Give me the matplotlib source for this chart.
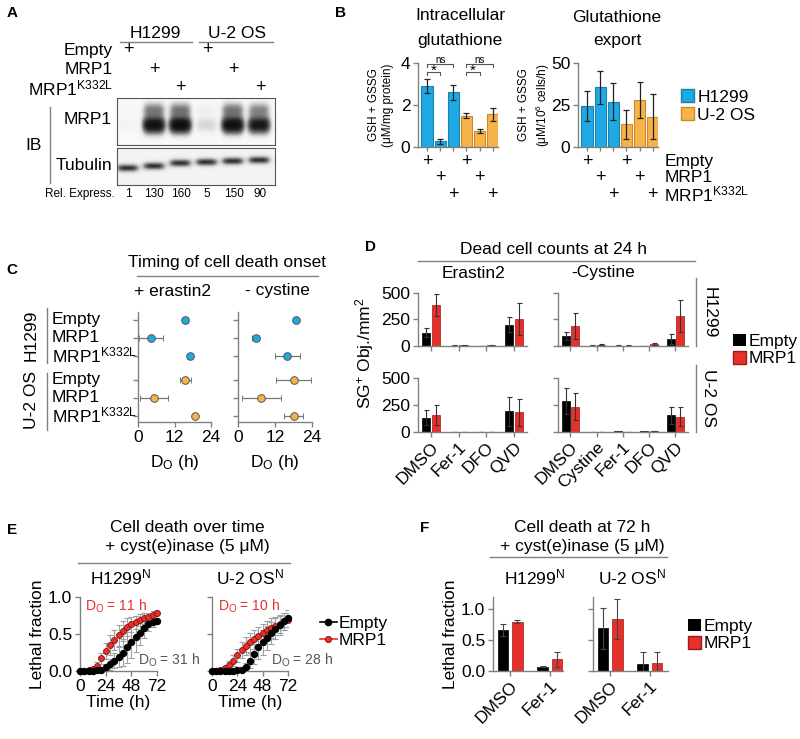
import numpy as np
import matplotlib
matplotlib.use('Agg')
from matplotlib import pyplot as plt
from matplotlib.lines import Line2D
from matplotlib.patches import Patch
from matplotlib.transforms import blended_transform_factory as blend

plt.rcParams['font.family'] = ['Liberation Sans', 'DejaVu Sans']
plt.rcParams['mathtext.fontset'] = 'custom'
plt.rcParams['mathtext.rm'] = 'Liberation Sans'
plt.rcParams['mathtext.it'] = 'Liberation Sans:italic'

# ---------------- data ----------------
lanes = ['H1299 Empty', 'H1299 MRP1', 'H1299 K332L', 'U2OS Empty', 'U2OS MRP1', 'U2OS K332L']
rel_express = [1, 130, 160, 5, 150, 90]

intra_mean = [2.9, 0.27, 2.6, 1.5, 0.78, 1.55]
intra_err = [0.35, 0.12, 0.35, 0.1, 0.1, 0.3]
export_mean = [24.5, 35.5, 27, 13.5, 28, 18]
export_err = [9, 10, 11, 8.5, 10.5, 13.5]

c_rows = ['Empty', 'MRP1', 'MRP1$^{\\mathregular{K332L}}$'] * 2
erastin_do = [15.6, 4.2, 17.1, 15.6, 5.2, 18.7]
erastin_do_err = [0.7, 4.0, 1.0, 1.8, 4.6, 0.6]
cystine_do = [18.7, 5.7, 16.0, 18.0, 7.6, 18.0]
cystine_do_err = [0.7, 1.1, 4.0, 5.8, 6.2, 3.0]

d_er_groups = ['DMSO', 'Fer-1', 'DFO', 'QVD']
d_cy_groups = ['DMSO', 'Cystine', 'Fer-1', 'DFO', 'QVD']
h_er_empty = [127, 3, 2, 199]
h_er_empty_err = [41, 2, 1, 70]
h_er_mrp1 = [389, 6, 5, 253]
h_er_mrp1_err = [105, 3, 3, 152]
h_cy_empty = [95, 3, 3, 2, 66]
h_cy_empty_err = [41, 2, 2, 1, 48]
h_cy_mrp1 = [190, 10, 3, 18, 285]
h_cy_mrp1_err = [120, 5, 2, 8, 152]
u_er_empty = [134, 2, 2, 194]
u_er_empty_err = [69, 1, 1, 134]
u_er_mrp1 = [156, 2, 2, 181]
u_er_mrp1_err = [94, 1, 1, 125]
u_cy_empty = [288, 1, 5, 6, 156]
u_cy_empty_err = [118, 1, 2, 2, 78]
u_cy_mrp1 = [234, 1, 3, 5, 141]
u_cy_mrp1_err = [125, 1, 1, 2, 88]

hours = [0, 4, 8, 12, 16, 20, 24, 28, 32, 36, 40, 44, 48, 52, 56, 60, 64, 68, 72]
h_empty = [0, 0, 0, 0, 0.01, 0.02, 0.05, 0.09, 0.14, 0.19, 0.25, 0.32, 0.39, 0.46, 0.52, 0.58, 0.63, 0.66, 0.68]
h_empty_err = [0, 0, 0, 0, 0.01, 0.02, 0.04, 0.07, 0.1, 0.14, 0.18, 0.21, 0.22, 0.2, 0.17, 0.13, 0.09, 0.06, 0.04]
h_mrp1 = [0, 0, 0.01, 0.03, 0.07, 0.17, 0.27, 0.35, 0.42, 0.48, 0.54, 0.59, 0.63, 0.66, 0.69, 0.71, 0.73, 0.76, 0.79]
h_mrp1_err = [0, 0, 0.01, 0.02, 0.05, 0.08, 0.11, 0.13, 0.14, 0.14, 0.13, 0.12, 0.1, 0.09, 0.08, 0.07, 0.06, 0.05, 0.04]
u_empty = [0, 0, 0, 0, 0, 0, 0.01, 0.02, 0.05, 0.14, 0.23, 0.32, 0.39, 0.45, 0.51, 0.57, 0.62, 0.67, 0.71]
u_empty_err = [0, 0, 0, 0, 0, 0, 0.01, 0.03, 0.06, 0.1, 0.14, 0.16, 0.17, 0.16, 0.15, 0.14, 0.13, 0.12, 0.12]
u_mrp1 = [0, 0, 0.01, 0.04, 0.08, 0.14, 0.21, 0.28, 0.34, 0.39, 0.43, 0.47, 0.51, 0.55, 0.58, 0.61, 0.64, 0.67, 0.69]
u_mrp1_err = [0, 0, 0.01, 0.03, 0.05, 0.07, 0.09, 0.11, 0.12, 0.13, 0.13, 0.13, 0.13, 0.13, 0.13, 0.12, 0.12, 0.11, 0.1]

f_groups = ['DMSO', 'Fer-1']
f_h_empty = [0.67, 0.07]
f_h_empty_err = [0.1, 0.01]
f_h_mrp1 = [0.80, 0.19]
f_h_mrp1_err = [0.02, 0.12]
f_u_empty = [0.69, 0.12]
f_u_empty_err = [0.33, 0.19]
f_u_mrp1 = [0.84, 0.13]
f_u_mrp1_err = [0.32, 0.18]

# ---------------- style ----------------
BLUE = '#1FA9E4'
ORANGE = '#F7B24A'
RED = '#E8302A'
AX = '#808080'
FS = 12.5
W, H = 800, 739

fig = plt.figure(figsize=(8, 7.39), dpi=100)


def px_axes(x0, y0, x1, y1):
    return fig.add_axes([x0 / W, 1 - y1 / H, (x1 - x0) / W, (y1 - y0) / H])


def ftext(x, y, s, **kw):
    kw.setdefault('ha', 'center')
    kw.setdefault('va', 'center')
    kw.setdefault('fontsize', FS)
    fig.text(x / W, 1 - y / H, s, **kw)


def fline(xs, ys, color=AX, lw=1):
    fig.add_artist(Line2D([x / W for x in xs], [1 - y / H for y in ys],
                          transform=fig.transFigure, color=color, lw=lw))


def style(ax):
    for s in ['top', 'right']:
        ax.spines[s].set_visible(False)
    for s in ['left', 'bottom']:
        ax.spines[s].set_color(AX)
        ax.spines[s].set_linewidth(1)
    ax.tick_params(color=AX, length=3.5, width=1, labelsize=FS, pad=2)
    ax.patch.set_alpha(0)


# panel letters
for letter, x, y in [('A', 12, 13), ('B', 340, 13), ('C', 12, 270), ('D', 370, 247),
                     ('E', 12, 530), ('F', 425, 528)]:
    ftext(x, y, letter, fontsize=11, fontweight='bold')

# ---------------- A: western blot ----------------
lane_px = [128 + 26.4 * i for i in range(6)]
ftext(155, 33, 'H1299')
ftext(237, 33, 'U-2 OS')
fline([120, 192], [42, 42])
fline([199, 273], [42, 42])
a_rows = ['Empty', 'MRP1', 'MRP1$^{\\mathregular{K332L}}$']
a_row_y = [50, 70, 88]
for r in range(3):
    ftext(113, a_row_y[r], a_rows[r], ha='right')
    for c in (r, r + 3):
        ftext(lane_px[c], a_row_y[r], '+', fontsize=13)

sig = 1 - np.exp(-np.array(rel_express) / 60.0)
xg = np.linspace(-0.4, 5.6, 400)
axm = px_axes(117, 98, 275, 145)
yg = np.linspace(98, 145, 120)
X, Y = np.meshgrid(xg, yg)
img = np.zeros_like(X)
for i, s in enumerate(sig):
    shape_x = np.exp(-((X - i) / 0.4) ** 4)
    shape_y = np.exp(-((Y - 125) / 7.5) ** 2) + 0.3 * np.exp(-((Y - 110) / 7) ** 2)
    img += 3.2 * s * shape_x * shape_y
img = 0.05 + 0.95 * (1 - np.exp(-img))
axm.imshow(img, extent=[-0.4, 5.6, 145, 98], cmap='Greys', vmin=0, vmax=1, aspect='auto')
axm.set_xticks([])
axm.set_yticks([])
for s in axm.spines.values():
    s.set_color('#555555')

axt = px_axes(117, 148, 275, 185)
tub_y = [168, 166, 163, 162, 161, 160]
yg2 = np.linspace(148, 185, 100)
X2, Y2 = np.meshgrid(xg, yg2)
img2 = np.full_like(X2, 0.1)
for i, yc in enumerate(tub_y):
    img2 += 0.75 * np.exp(-((X2 - i) / 0.42) ** 4) * np.exp(-((Y2 - yc) / 3.8) ** 2)
axt.imshow(img2, extent=[-0.4, 5.6, 185, 148], cmap='Greys', vmin=0, vmax=1, aspect='auto')
axt.set_xticks([])
axt.set_yticks([])
for s in axt.spines.values():
    s.set_color('#555555')

ftext(112, 120, 'MRP1', ha='right')
ftext(112, 165, 'Tubulin', ha='right')
ftext(34, 145, 'IB')
fline([50, 50], [107, 183])
ftext(115, 194, 'Rel. Express.', ha='right', fontsize=8.5)
for i, v in enumerate(rel_express):
    ftext(lane_px[i], 194, str(v), fontsize=8.5)

# ---------------- B: glutathione ----------------
bcol = [BLUE] * 3 + [ORANGE] * 3
bedge = ['#1782b0'] * 3 + ['#c98a2a'] * 3
xb = np.arange(6)
axB1 = px_axes(418, 63, 498, 147)
axB2 = px_axes(578, 63, 658, 147)
for ax, m, e, top in [(axB1, intra_mean, intra_err, 4), (axB2, export_mean, export_err, 50)]:
    style(ax)
    ax.bar(xb, m, width=0.85, color=bcol, edgecolor=bedge, lw=0.8)
    ax.errorbar(xb, m, yerr=e, fmt='none', ecolor='#222222', elinewidth=0.9, capsize=2.5, capthick=0.9)
    ax.set_xlim(-0.68, 5.4)
    ax.set_ylim(0, top)
    ax.set_yticks([0, top / 2, top])
    ax.set_xticks(xb)
    ax.set_xticklabels([])
    ax.tick_params(axis='x', length=3)
    tr = blend(ax.transData, ax.transAxes)
    for i in range(6):
        ax.text(i, [-0.17, -0.36, -0.56][i % 3], '+', transform=tr, ha='center', va='center', fontsize=13)
axB1.set_yticklabels(['0', '2', '4'])
axB2.set_yticklabels(['0', '25', '50'])

trB = blend(axB2.transAxes, axB2.transAxes)
for r, yy in enumerate([-0.17, -0.36, -0.56]):
    axB2.text(1.08, yy, a_rows[r], transform=trB, ha='left', va='center', fontsize=FS)


def bracket(ax, x0, x1, y, h, txt, fs, dy):
    ax.plot([x0, x0, x1, x1], [y - h, y, y, y - h], color='#555555', lw=0.8, clip_on=False)
    ax.text((x0 + x1) / 2, y + dy, txt, ha='center', va='center', fontsize=fs, clip_on=False)


bracket(axB1, 0, 1, 3.59, 0.14, '*', 11, 0.02)
bracket(axB1, 0, 2, 3.94, 0.14, 'ns', 7, 0.22)
bracket(axB1, 3, 4, 3.59, 0.14, '*', 11, 0.02)
bracket(axB1, 3, 5, 3.94, 0.14, 'ns', 7, 0.22)

ftext(460, 16, 'Intracellular')
ftext(460, 40, 'glutathione')
ftext(617, 18, 'Glutathione')
ftext(617, 41, 'export')
ftext(381, 105, 'GSH + GSSG\n(μM/mg protein)', rotation=90, fontsize=8.5, linespacing=1.3)
ftext(535, 105, 'GSH + GSSG\n(μM/10$^{\\mathregular{6}}$ cells/h)', rotation=90, fontsize=8.5, linespacing=1.3)
fig.legend(handles=[Patch(facecolor=BLUE, edgecolor='#1782b0'), Patch(facecolor=ORANGE, edgecolor='#c98a2a')],
           labels=['H1299', 'U-2 OS'], loc='center left', bbox_to_anchor=(672 / W, 1 - 106 / H),
           frameon=False, fontsize=FS, handlelength=0.75, handleheight=0.75, handletextpad=0.2,
           labelspacing=0.15, borderpad=0)

# ---------------- C: timing of death onset ----------------
c_pos = [0, 1, 2, 3.33, 4.33, 5.33]
ccol = [BLUE] * 3 + [ORANGE] * 3
ftext(227, 263, 'Timing of cell death onset')
fline([137, 318], [276, 276])
ftext(173, 291, '+ erastin2')
ftext(277, 291, '- cystine')
axC1 = px_axes(138, 312, 211, 422)
axC2 = px_axes(238, 312, 312, 422)
for ax, m, e in [(axC1, erastin_do, erastin_do_err), (axC2, cystine_do, cystine_do_err)]:
    style(ax)
    for i in range(6):
        ax.errorbar(m[i], c_pos[i], xerr=e[i], fmt='o', color=ccol[i], markersize=5.5,
                    markeredgecolor='#555555', markeredgewidth=0.7, ecolor='#777777',
                    elinewidth=0.9, capsize=2, capthick=0.9, clip_on=False)
    ax.set_xlim(0, 24)
    ax.set_ylim(5.67, -0.44)
    ax.set_xticks([0, 12, 24])
    ax.set_yticks(c_pos)
    ax.set_yticklabels([])
    ax.set_xlabel('D$_{\\mathregular{O}}$ (h)', fontsize=FS, labelpad=6)
trC = blend(axC1.transAxes, axC1.transData)
for i in range(6):
    axC1.text(-1.18, c_pos[i], c_rows[i], transform=trC, ha='left', va='center', fontsize=FS)
ftext(31, 335, 'H1299', rotation=90)
fline([47, 47], [308, 363])
ftext(31, 400, 'U-2 OS', rotation=90)
fline([47, 47], [373, 430])

# ---------------- D: dead cell counts ----------------
ftext(553, 250, 'Dead cell counts at 24 h')
fline([418, 695], [261, 261])
ftext(473, 273, 'Erastin2')
ftext(603, 273, '-Cystine')
d_panels = [
    ((418, 293, 527, 346), d_er_groups, h_er_empty, h_er_empty_err, h_er_mrp1, h_er_mrp1_err, False),
    ((558, 293, 688, 346), d_cy_groups, h_cy_empty, h_cy_empty_err, h_cy_mrp1, h_cy_mrp1_err, False),
    ((418, 378, 527, 432), d_er_groups, u_er_empty, u_er_empty_err, u_er_mrp1, u_er_mrp1_err, True),
    ((558, 378, 688, 432), d_cy_groups, u_cy_empty, u_cy_empty_err, u_cy_mrp1, u_cy_mrp1_err, True),
]
for box, groups, e_m, e_e, r_m, r_e, show in d_panels:
    ax = px_axes(*box)
    style(ax)
    g = np.arange(len(groups))
    ax.bar(g - 0.18, e_m, width=0.3, color='black', edgecolor='black', lw=0.5)
    ax.bar(g + 0.18, r_m, width=0.3, color=RED, edgecolor='#a01818', lw=0.5)
    ax.errorbar(g - 0.18, e_m, yerr=e_e, fmt='none', ecolor='#333333', elinewidth=0.8, capsize=1.8, capthick=0.8)
    ax.errorbar(g + 0.18, r_m, yerr=r_e, fmt='none', ecolor='#333333', elinewidth=0.8, capsize=1.8, capthick=0.8)
    ax.set_ylim(0, 500)
    ax.set_xlim(-0.47, len(groups) - 0.52)
    ax.set_xticks(g)
    ax.set_yticks([0, 250, 500])
    if box[0] > 500:
        ax.set_yticklabels([])
    if show:
        ax.set_xticklabels(groups, rotation=45, ha='right', rotation_mode='anchor')
    else:
        ax.set_xticklabels([])
ftext(365, 353, 'SG$^{\\mathregular{+}}$ Obj./mm$^{\\mathregular{2}}$', rotation=90)
ftext(709, 313, 'H1299', rotation=270)
fline([696, 696], [278, 346])
ftext(709, 398, 'U-2 OS', rotation=270)
fline([696, 696], [365, 432])
fig.legend(handles=[Patch(facecolor='black'), Patch(facecolor=RED, edgecolor='#a01818')],
           labels=['Empty', 'MRP1'], loc='center left', bbox_to_anchor=(724 / W, 1 - 350 / H),
           frameon=False, fontsize=FS, handlelength=0.75, handleheight=0.75, handletextpad=0.15,
           labelspacing=0.1, borderpad=0)

# ---------------- E: cell death over time ----------------
ftext(187, 527, 'Cell death over time')
ftext(187, 547, '+ cyst(e)inase (5 μM)')
fline([78, 290], [563, 563])
ftext(121, 577, 'H1299$^{\\mathregular{N}}$')
ftext(250, 577, 'U-2 OS$^{\\mathregular{N}}$')
axE1 = px_axes(80, 597, 157, 671)
axE2 = px_axes(212, 597, 288, 671)
for ax, em, ee, rm, re_ in [(axE1, h_empty, h_empty_err, h_mrp1, h_mrp1_err),
                             (axE2, u_empty, u_empty_err, u_mrp1, u_mrp1_err)]:
    style(ax)
    ax.errorbar(hours, rm, yerr=re_, fmt='none', ecolor='#a0a0a0', elinewidth=0.8, capsize=2, capthick=0.8, zorder=1)
    ax.errorbar(hours, em, yerr=ee, fmt='none', ecolor='#a0a0a0', elinewidth=0.8, capsize=2, capthick=0.8, zorder=1)
    ax.plot(hours, rm, 'o', color=RED, markersize=4.3, markeredgecolor='#7a1010', markeredgewidth=0.6,
            clip_on=False, zorder=3)
    ax.plot(hours, em, 'o', color='black', markersize=4.3, clip_on=False, zorder=4)
    ax.set_xlim(0, 72)
    ax.set_ylim(0, 1)
    ax.set_xticks([0, 24, 48, 72])
    ax.set_yticks([0, 0.5, 1.0])
    ax.set_xlabel('Time (h)', fontsize=FS, labelpad=1)
axE1.set_yticklabels(['0.0', '0.5', '1.0'])
axE2.set_yticklabels([])
axE1.set_ylabel('Lethal fraction', fontsize=FS, labelpad=2)
axE1.text(0.07, 0.88, 'D$_{\\mathregular{O}}$ = 11 h', transform=axE1.transAxes, color=RED, fontsize=10, va='center')
axE1.text(0.75, 0.15, 'D$_{\\mathregular{O}}$ = 31 h', transform=axE1.transAxes, color='#555555', fontsize=10, va='center')
axE2.text(0.08, 0.88, 'D$_{\\mathregular{O}}$ = 10 h', transform=axE2.transAxes, color=RED, fontsize=10, va='center')
axE2.text(0.78, 0.15, 'D$_{\\mathregular{O}}$ = 28 h', transform=axE2.transAxes, color='#555555', fontsize=10, va='center')
fig.legend(handles=[Line2D([], [], color='black', marker='o', markersize=4.5, lw=1.2),
                    Line2D([], [], color=RED, marker='o', markersize=4.5, lw=1.2,
                           markeredgecolor='#7a1010', markeredgewidth=0.6)],
           labels=['Empty', 'MRP1'], loc='center left', bbox_to_anchor=(311 / W, 1 - 632 / H),
           frameon=False, fontsize=FS, handlelength=1.0, handletextpad=0.1, labelspacing=0.1, borderpad=0)

# ---------------- F: cell death at 72 h ----------------
ftext(582, 527, 'Cell death at 72 h')
ftext(582, 547, '+ cyst(e)inase (5 μM)')
fline([490, 667], [557, 557])
ftext(535, 577, 'H1299$^{\\mathregular{N}}$')
ftext(632, 577, 'U-2 OS$^{\\mathregular{N}}$')
axF1 = px_axes(493, 597, 563, 671)
axF2 = px_axes(593, 597, 668, 671)
for ax, em, ee, rm, re_, right in [(axF1, f_h_empty, f_h_empty_err, f_h_mrp1, f_h_mrp1_err, 1.33),
                                    (axF2, f_u_empty, f_u_empty_err, f_u_mrp1, f_u_mrp1_err, 1.46)]:
    style(ax)
    g = np.arange(len(f_groups))
    ax.bar(g - 0.18, em, width=0.27, color='black', edgecolor='black', lw=0.5)
    ax.bar(g + 0.18, rm, width=0.27, color=RED, edgecolor='#a01818', lw=0.5)
    ax.errorbar(g - 0.18, em, yerr=ee, fmt='none', ecolor='#444444', elinewidth=0.8, capsize=2, capthick=0.8)
    ax.errorbar(g + 0.18, rm, yerr=re_, fmt='none', ecolor='#444444', elinewidth=0.8, capsize=2, capthick=0.8)
    ax.set_ylim(0, 1.2)
    ax.set_xlim(-0.43, right)
    ax.set_xticks(g)
    ax.set_xticklabels(f_groups, rotation=45, ha='right', rotation_mode='anchor')
    ax.set_yticks([0, 0.5, 1.0])
axF1.set_yticklabels(['0.0', '0.5', '1.0'])
axF2.set_yticklabels([])
axF1.set_ylabel('Lethal fraction', fontsize=FS, labelpad=2)
fig.legend(handles=[Patch(facecolor='black'), Patch(facecolor=RED, edgecolor='#a01818')],
           labels=['Empty', 'MRP1'], loc='center left', bbox_to_anchor=(679 / W, 1 - 635 / H),
           frameon=False, fontsize=FS, handlelength=0.75, handleheight=0.75, handletextpad=0.15,
           labelspacing=0.1, borderpad=0)

fig.savefig('out.png', dpi=100)
